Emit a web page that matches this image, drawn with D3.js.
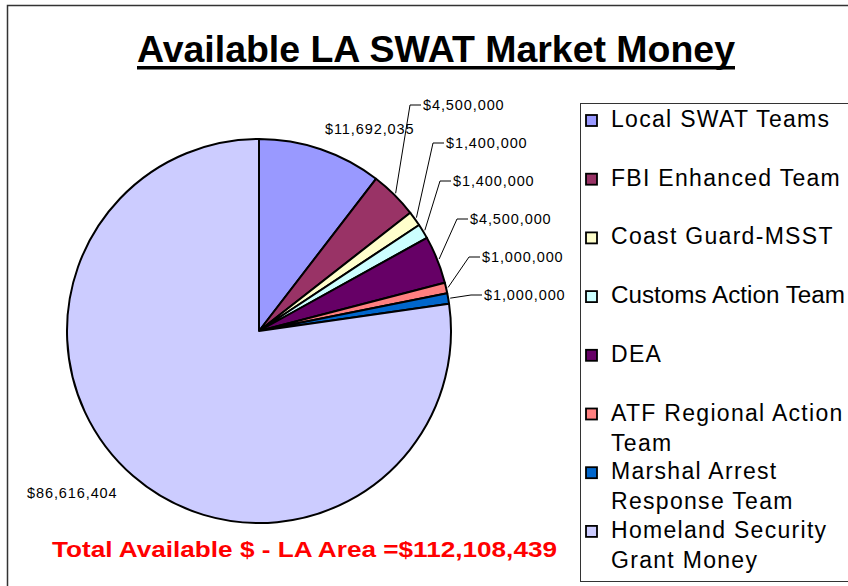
<!DOCTYPE html>
<html>
<head>
<meta charset="utf-8">
<script src="https://cdn.jsdelivr.net/npm/d3@7/dist/d3.min.js"></script>
<style>
  html, body { margin: 0; padding: 0; background: #fff; }
  svg { display: block; }
  text { font-family: "Liberation Sans", Arial, sans-serif; }
</style>
</head>
<body>
<svg id="chart" width="848" height="586"></svg>
<script>
// ---- data ----
const categories = [
  "Local SWAT Teams",
  "FBI Enhanced Team",
  "Coast Guard-MSST",
  "Customs Action Team",
  "DEA",
  "ATF Regional Action Team",
  "Marshal Arrest Response Team",
  "Homeland Security Grant Money"
];
const values = [11692035, 4500000, 1400000, 1400000, 4500000, 1000000, 1000000, 86616404];
const legendLines = [
  ["Local SWAT Teams"],
  ["FBI Enhanced Team"],
  ["Coast Guard-MSST"],
  ["Customs Action Team"],
  ["DEA"],
  ["ATF Regional Action", "Team"],
  ["Marshal Arrest", "Response Team"],
  ["Homeland Security", "Grant Money"]
];
const colors = ["#9999FF", "#993366", "#FFFFCC", "#CCFFFF", "#660066", "#FF8080", "#0066CC", "#CCCCFF"];
const titleText = "Available LA SWAT Market Money";
const totalText = "Total Available $ - LA Area =$112,108,439";

// ---- layout (label anchor positions: left x, baseline y) ----
const labelPos = [[325, 134], [423, 110], [446, 148], [453, 186], [470, 224], [482, 262], [484, 300], [27, 498]];
const hasLeader = [false, true, true, true, true, true, true, false];

const svg = d3.select("#chart");
const fmt = v => "$" + d3.format(",")(v);

// outer chart border
svg.append("rect").attr("x", 7.5).attr("y", 5.5).attr("width", 900).attr("height", 700)
  .attr("fill", "#fff").attr("stroke", "#333").attr("stroke-width", 1.5);

// title
svg.append("text").attr("x", 137).attr("y", 62)
  .attr("font-size", 37).attr("font-weight", "bold").attr("fill", "#000")
  .attr("textLength", 598).attr("lengthAdjust", "spacingAndGlyphs")
  .text(titleText);
svg.append("rect").attr("x", 137).attr("y", 66).attr("width", 598).attr("height", 3.5).attr("fill", "#000");

// pie
const cx = 259, cy = 331, r = 192;
const pie = d3.pie().sort(null).value(d => d).startAngle(0).endAngle(2 * Math.PI);
const arcs = pie(values);
const arc = d3.arc().innerRadius(0).outerRadius(r);
const g = svg.append("g").attr("transform", `translate(${cx},${cy})`);
g.selectAll("path").data(arcs).enter().append("path")
  .attr("d", arc)
  .attr("fill", (d, i) => colors[i])
  .attr("stroke", "#000").attr("stroke-width", 2).attr("stroke-linejoin", "round");

// leader lines + labels
arcs.forEach((d, i) => {
  const [lx, ly] = labelPos[i];
  const mid = (d.startAngle + d.endAngle) / 2;
  if (hasLeader[i]) {
    const ex = cx + (r + 2) * Math.sin(mid), ey = cy - (r + 2) * Math.cos(mid);
    const my = ly - 5;
    svg.append("path")
      .attr("d", `M${ex},${ey}L${lx - 13},${my}L${lx - 2},${my}`)
      .attr("fill", "none").attr("stroke", "#000").attr("stroke-width", 1);
  }
  svg.append("text").attr("x", lx).attr("y", ly)
    .attr("font-size", 14.5).attr("letter-spacing", 0.9).attr("fill", "#000").text(fmt(values[i]));
});

// total text
svg.append("text").attr("x", 52).attr("y", 557)
  .attr("font-size", 22).attr("font-weight", "bold").attr("fill", "#FF0000")
  .attr("textLength", 505).attr("lengthAdjust", "spacingAndGlyphs")
  .text(totalText);

// legend
svg.append("rect").attr("x", 580.5).attr("y", 103.5).attr("width", 400).attr("height", 478)
  .attr("fill", "#fff").attr("stroke", "#333").attr("stroke-width", 1);
const lg = svg.append("g");
const maxW = 848 - 611 - 3;
legendLines.forEach((lines, i) => {
  const base = 127 + 58.7 * i;
  lg.append("rect").attr("x", 586).attr("y", base - 12).attr("width", 11).attr("height", 11)
    .attr("fill", colors[i]).attr("stroke", "#000").attr("stroke-width", 1.8);
  lines.forEach((t, j) => {
    const tx = lg.append("text").attr("x", 611).attr("y", base + 30 * j)
      .attr("font-size", 23).attr("letter-spacing", 1.3).attr("fill", "#000").text(t);
    const w = tx.node().getComputedTextLength();
    if (w > maxW) {
      tx.attr("letter-spacing", 0).attr("textLength", maxW).attr("lengthAdjust", "spacingAndGlyphs");
    }
  });
});
</script>
</body>
</html>
